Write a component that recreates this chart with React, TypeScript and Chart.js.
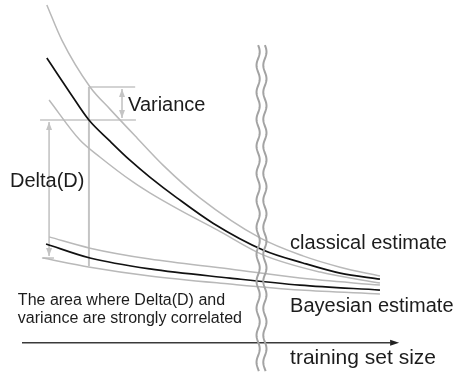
import React, { useEffect, useRef } from "react";
import { Chart, registerables } from "chart.js";

Chart.register(...registerables);

// ---- data (abstract units: x = training set size 0..100, y = error 0..100) ----
const classicalX = [6.6, 12.8, 17.8, 23.4, 28.7, 34.0, 41.2, 50.8, 64.1, 74.7, 84.6, 95.2];
const classicalMean = [83.5, 73.6, 65.9, 59.9, 54.5, 49.7, 43.8, 36.6, 29.0, 25.3, 22.4, 20.7];
const classicalUpperX = [6.6, 10.6, 18.1, 23.4, 30.6, 37.5, 47.3, 63.3, 74.7, 84.6, 95.2];
const classicalUpper = [98.6, 88.6, 75.3, 69.0, 60.8, 53.1, 43.8, 32.4, 27.3, 24.1, 21.6];
const classicalLowerX = [7.2, 15.4, 20.7, 29.5, 34.0, 42.0, 51.9, 64.1, 79.3, 95.2];
const classicalLower = [71.6, 60.2, 55.4, 48.3, 45.2, 40.3, 34.7, 27.6, 22.7, 19.6];

const bayesX = [6.4, 18.1, 34.0, 55.3, 73.9, 95.2];
const bayesMean = [30.7, 26.7, 23.6, 21.0, 19.0, 17.6];
const bayesUpperX = [7.2, 18.1, 34.0, 55.3, 73.9, 95.2];
const bayesUpper = [32.7, 29.5, 26.4, 23.6, 21.0, 19.0];
const bayesLowerX = [5.6, 18.1, 34.0, 55.3, 73.9, 95.2];
const bayesLower = [26.7, 24.1, 21.6, 19.3, 17.6, 16.5];

// reference markers
const sampleSize = 17.8; // vertical marker
const varianceTop = 75.3;
const meanAtSample = 65.9;
const deltaBottom = 26.7;
const markerBottom = 24.4;
const axisLevel = 2.6;
const breakXs = [62.8, 64.6]; // axis break (double wavy line)
const breakTop = 87.2;

const labels = [
  { text: "Variance", x: 28.2, y: 68.5, size: 20 },
  { text: "Delta(D)", x: -3.2, y: 46.9, size: 20 },
  { text: "classical estimate", x: 71.3, y: 29.3, size: 20 },
  { text: "Bayesian estimate", x: 71.3, y: 11.4, size: 20 },
  { text: "training set size", x: 71.3, y: -3.4, size: 21 },
  { text: "The area where Delta(D) and", x: -1.1, y: 13.4, size: 16 },
  { text: "variance are strongly correlated", x: -1.1, y: 8.2, size: 16 },
];

const FONT = '"Liberation Sans", Arial, Helvetica, sans-serif';
const GRAY = "#b9b9b9";
const REF = "#c4c4c4";

function pts(xs: number[], ys: number[]) {
  return xs.map((x, i) => ({ x, y: ys[i] }));
}

function head(ctx: CanvasRenderingContext2D, x: number, y: number, dir: number) {
  // dir = -1 points up, +1 points down
  ctx.beginPath();
  ctx.moveTo(x, y);
  ctx.lineTo(x - 3, y - dir * 8);
  ctx.lineTo(x + 3, y - dir * 8);
  ctx.closePath();
  ctx.fill();
}

const schematic = {
  id: "schematic",
  beforeDatasetsDraw(chart: any) {
    const ctx = chart.ctx as CanvasRenderingContext2D;
    const X = chart.scales.x;
    const Y = chart.scales.y;
    const px = (v: number) => X.getPixelForValue(v);
    const py = (v: number) => Y.getPixelForValue(v);
    ctx.save();
    ctx.strokeStyle = REF;
    ctx.fillStyle = REF;
    const line = (x1: number, y1: number, x2: number, y2: number) => {
      ctx.beginPath();
      ctx.moveTo(x1, y1);
      ctx.lineTo(x2, y2);
      ctx.stroke();
    };
    ctx.lineWidth = 2;
    line(px(sampleSize), py(varianceTop), px(sampleSize), py(markerBottom));
    ctx.lineWidth = 1.6;
    line(px(sampleSize), py(varianceTop), px(30.1), py(varianceTop));
    line(px(4.8), py(meanAtSample), px(30.3), py(meanAtSample));
    line(px(5.3), py(deltaBottom), px(8.5), py(deltaBottom));
    const vx = px(26.6);
    line(vx, py(varianceTop) + 2, vx, py(meanAtSample) - 2);
    head(ctx, vx, py(varianceTop) + 2, -1);
    head(ctx, vx, py(meanAtSample) - 2, 1);
    const dx = px(7.2);
    line(dx, py(meanAtSample) + 2, dx, py(deltaBottom) - 2);
    head(ctx, dx, py(meanAtSample) + 2, -1);
    head(ctx, dx, py(deltaBottom) - 2, 1);
    ctx.restore();
  },
  afterDatasetsDraw(chart: any) {
    const ctx = chart.ctx as CanvasRenderingContext2D;
    const X = chart.scales.x;
    const Y = chart.scales.y;
    const px = (v: number) => X.getPixelForValue(v);
    const py = (v: number) => Y.getPixelForValue(v);
    ctx.save();
    const ay = py(axisLevel);
    ctx.strokeStyle = "#3a3a3a";
    ctx.fillStyle = "#222";
    ctx.lineWidth = 1.5;
    ctx.beginPath();
    ctx.moveTo(px(0), ay);
    ctx.lineTo(px(98), ay);
    ctx.stroke();
    ctx.beginPath();
    ctx.moveTo(px(100.3), ay);
    ctx.lineTo(px(97.9), ay - 3);
    ctx.lineTo(px(97.9), ay + 3);
    ctx.closePath();
    ctx.fill();
    ctx.strokeStyle = "#a3a3a3";
    ctx.lineWidth = 2;
    const top = py(breakTop);
    const bottom = chart.height;
    breakXs.forEach((bx) => {
      const x0 = px(bx);
      ctx.beginPath();
      for (let y = top; y <= bottom; y += 1) {
        const x = x0 + 1.6 * Math.sin(((y - top) / 27) * Math.PI * 2);
        if (y === top) ctx.moveTo(x, y);
        else ctx.lineTo(x, y);
      }
      ctx.stroke();
    });
    ctx.fillStyle = "#1c1c1c";
    ctx.textBaseline = "alphabetic";
    ctx.textAlign = "left";
    labels.forEach((l) => {
      ctx.font = `${l.size}px ${FONT}`;
      ctx.fillText(l.text, px(l.x), py(l.y));
    });
    ctx.restore();
  },
};

export default function App() {
  const ref = useRef<HTMLCanvasElement | null>(null);
  useEffect(() => {
    if (!ref.current) return;
    const ds = (label: string, xs: number[], ys: number[], color: string, width: number) => ({
      label,
      data: pts(xs, ys),
      borderColor: color,
      borderWidth: width,
      pointRadius: 0,
      fill: false,
      cubicInterpolationMode: "monotone" as const,
    });
    const chart = new Chart(ref.current, {
      type: "line",
      data: {
        datasets: [
          ds("classical upper", classicalUpperX, classicalUpper, GRAY, 1.5),
          ds("classical lower", classicalLowerX, classicalLower, GRAY, 1.5),
          ds("Bayesian upper", bayesUpperX, bayesUpper, GRAY, 1.5),
          ds("Bayesian lower", bayesLowerX, bayesLower, GRAY, 1.5),
          ds("classical estimate", classicalX, classicalMean, "#111", 1.7),
          ds("Bayesian estimate", bayesX, bayesMean, "#111", 1.7),
        ],
      },
      options: {
        responsive: false,
        maintainAspectRatio: false,
        animation: false,
        layout: { padding: { left: 22, right: 62, top: 0, bottom: 20 } },
        scales: {
          x: { type: "linear", min: 0, max: 100, display: false },
          y: { type: "linear", min: 0, max: 100, display: false },
        },
        plugins: { legend: { display: false }, tooltip: { enabled: false } },
      },
      plugins: [schematic],
    });
    return () => chart.destroy();
  }, []);
  return (
    <div style={{ position: "fixed", left: 0, top: 0, width: 460, height: 372, background: "#fff" }}>
      <canvas ref={ref} width={460} height={372} style={{ display: "block" }} />
    </div>
  );
}
